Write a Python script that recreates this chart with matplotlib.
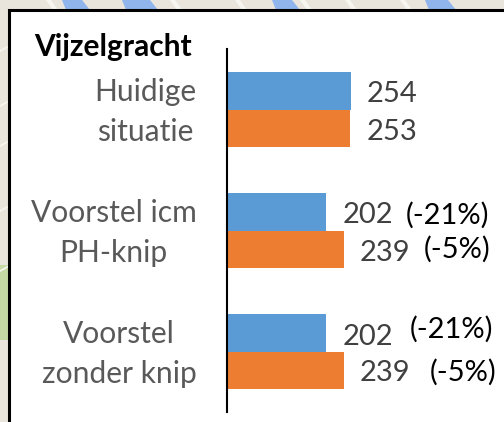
import matplotlib
matplotlib.use("Agg")
import matplotlib.pyplot as plt
from matplotlib.patches import Rectangle, Polygon
from matplotlib.transforms import ScaledTranslation

W, H = 504, 422
FONT = "Lato"

title = "Vijzelgracht"
categories = ["Huidige\nsituatie", "Voorstel icm\nPH-knip", "Voorstel\nzonder knip"]
series_a = [254, 202, 202]
series_b = [253, 239, 239]
pct_a = [None, "(-21%)", "(-21%)"]
pct_b = [None, "(-5%)", "(-5%)"]

BLUE, ORANGE = "#5B9BD5", "#ED7D31"

fig = plt.figure(figsize=(W / 100, H / 100), dpi=100)
bg = fig.add_axes([0, 0, 1, 1])
bg.set_xlim(0, W); bg.set_ylim(H, 0); bg.axis("off")
bg.add_patch(Rectangle((0, 0), W, H, fc="#E9E5DC", ec="none"))
# map fragments around the box
for x0, x1 in [(62, 82), (122, 150), (272, 292), (425, 448)]:
    bg.add_patch(Polygon([(x0, 0), (x1, 0), (x1 + 8, 10), (x0 + 4, 10)], fc="#8FB5EC", ec="none"))
for x0 in [46, 170, 235, 300, 345, 400]:
    bg.add_patch(Polygon([(x0, 0), (x0 + 5, 0), (x0 + 12, 10), (x0 + 7, 10)], fc="#F7F5F0", ec="none"))
bg.add_patch(Rectangle((0, 265), 9, 75, fc="#C5D9A5", ec="none"))
for y0 in [45, 100, 140, 205, 265]:
    bg.add_patch(Polygon([(0, y0 + 5), (9, y0), (9, y0 + 2), (0, y0 + 7)], fc="#F7F5F0", ec="none"))
bg.add_patch(Rectangle((9, 10), W, H, fc="white", ec="black", lw=2.2))

ax = fig.add_axes([227 / W, 1 - 412 / H, (W - 227) / W, 363 / H])
ax.patch.set_alpha(0)
ax.set_xlim(0, (W - 227) / 0.488)
ax.set_ylim(2.5, -0.5)
bar_h = 0.312
ypos = list(range(len(categories)))
ax.barh([y - bar_h / 2 for y in ypos], series_a, height=bar_h, color=BLUE)
ax.barh([y + bar_h / 2 for y in ypos], series_b, height=bar_h, color=ORANGE)
for s in ["top", "right", "bottom"]:
    ax.spines[s].set_visible(False)
ax.spines["left"].set_color("black")
ax.spines["left"].set_linewidth(1.5)
ax.set_xticks([])
ax.set_yticks(ypos)
ax.set_yticklabels(categories, fontfamily=FONT, fontsize=21.6, color="#595959",
                   multialignment="center", linespacing=1.54)
ax.tick_params(axis="y", length=0, pad=22)
shift_up = ScaledTranslation(0, 6 / 100, fig.dpi_scale_trans)
for t in ax.get_yticklabels():
    t.set_transform(t.get_transform() + shift_up)

def label(x, y, txt, dx, dy, color):
    ax.annotate(txt, xy=(x, y), xytext=(dx * 0.72, -dy * 0.72), textcoords="offset points",
                ha="left", va="center", fontfamily=FONT, fontsize=21, color=color)

val_off_a = [(16, 3), (17, 3), (17, 4)]
val_off_b = [(16, 4), (16, 4), (16, 3)]
pct_off_a = [None, (80, 4), (84, -3)]
pct_off_b = [None, (80, 0), (86, 2)]
for i, y in enumerate(ypos):
    ya, yb = y - bar_h / 2, y + bar_h / 2
    label(series_a[i], ya, str(series_a[i]), *val_off_a[i], "#404040")
    label(series_b[i], yb, str(series_b[i]), *val_off_b[i], "#404040")
    if pct_a[i]:
        label(series_a[i], ya, pct_a[i], *pct_off_a[i], "black")
        label(series_b[i], yb, pct_b[i], *pct_off_b[i], "black")

bg.text(34, 47, title, fontfamily=FONT, fontweight="bold", fontsize=21.5, color="black",
        ha="left", va="center")
fig.savefig("out.png", dpi=100)
